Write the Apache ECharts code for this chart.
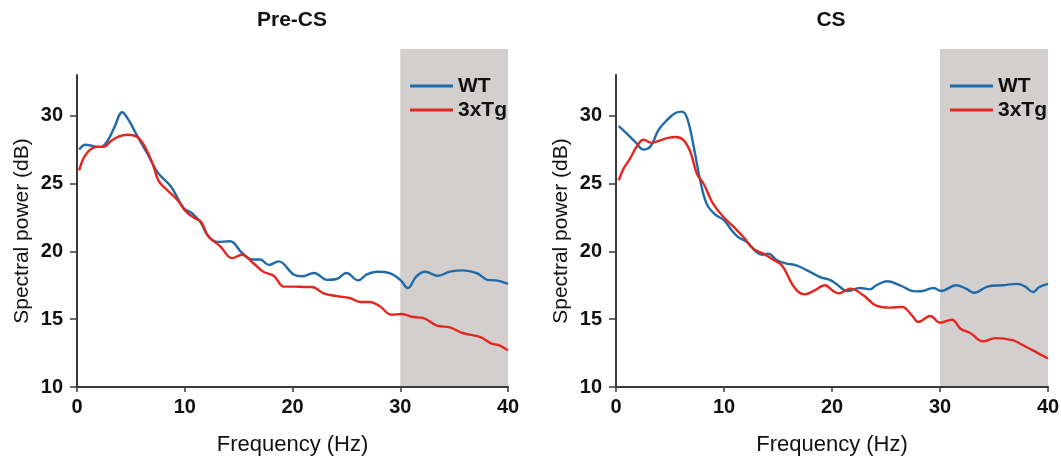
<!DOCTYPE html>
<html>
<head>
<meta charset="utf-8">
<script src="https://cdn.jsdelivr.net/npm/echarts@6/dist/echarts.min.js"></script>
<style>
  html, body { margin: 0; padding: 0; background: #fff; }
  #chart { width: 1061px; height: 457px; }
</style>
</head>
<body>
<div id="chart"></div>
<script>
// values
var panelTitles = ["Pre-CS", "CS"];
var seriesNames = ["WT", "3xTg"];
var xTicks = [0, 10, 20, 30, 40];
var yTicks = [10, 15, 20, 25, 30];
var band = [30, 40];

var preWtHz = [0.2, 0.8, 1.6, 2.2, 2.8, 3.45, 4.2, 4.7, 5.6, 6.5, 7.5, 8.7, 9.9, 10.7, 11.5, 12.1, 13.0, 14.2, 15.3, 16.25, 17.0, 17.8, 18.7, 20.1, 20.9, 22.0, 23.2, 24.1, 25.0, 26.1, 26.9, 27.8, 29.0, 30.0, 30.7, 31.5, 32.3, 33.5, 34.6, 35.8, 37.1, 38.1, 38.9, 40];
var preWt = [27.5, 27.86, 27.74, 27.7, 28.1, 29.1, 30.25, 29.8, 28.5, 27.25, 25.8, 24.8, 23.2, 22.8, 22.1, 21.2, 20.7, 20.74, 19.9, 19.4, 19.4, 19.0, 19.26, 18.3, 18.16, 18.4, 17.9, 17.96, 18.4, 17.86, 18.3, 18.5, 18.4, 17.9, 17.3, 18.16, 18.5, 18.2, 18.5, 18.6, 18.4, 17.9, 17.86, 17.6];

var preTgHz = [0.2, 0.7, 1.3, 1.9, 2.5, 3.1, 3.9, 4.7, 5.6, 6.2, 7.0, 7.6, 8.4, 9.3, 10.1, 10.9, 11.5, 12.2, 13.3, 14.4, 15.3, 16.4, 17.3, 18.25, 19.2, 20.1, 21.3, 21.8, 22.9, 24.1, 25.3, 26.3, 27.2, 28.1, 29.2, 30.1, 31.2, 32.1, 33.4, 34.6, 35.8, 37.4, 38.5, 39.2, 40];
var preTg = [25.97, 27.0, 27.54, 27.7, 27.7, 28.1, 28.48, 28.6, 28.43, 27.86, 26.5, 25.16, 24.5, 23.8, 22.95, 22.46, 22.2, 21.1, 20.37, 19.5, 19.75, 19.1, 18.5, 18.2, 17.4, 17.4, 17.37, 17.37, 16.9, 16.7, 16.56, 16.27, 16.27, 15.95, 15.33, 15.38, 15.16, 15.09, 14.52, 14.4, 13.98, 13.69, 13.2, 13.07, 12.7];

var csWtHz = [0.25, 1.0, 1.8, 2.55, 3.2, 3.9, 4.7, 5.5, 6.1, 6.6, 7.2, 7.8, 8.4, 9.2, 10.0, 10.6, 11.3, 12.1, 13.0, 13.5, 14.1, 14.9, 15.8, 16.7, 17.7, 18.9, 19.8, 20.4, 21.4, 22.6, 23.5, 24.1, 25.1, 26.3, 27.7, 28.4, 29.4, 30.1, 31.5, 32.4, 33.2, 34.4, 35.8, 37.1, 37.9, 38.6, 39.2, 40];
var csWt = [29.24, 28.67, 28.06, 27.5, 27.74, 28.9, 29.66, 30.2, 30.3, 29.78, 27.7, 25.23, 23.5, 22.7, 22.3, 21.67, 21.06, 20.7, 19.95, 19.75, 19.83, 19.34, 19.1, 18.97, 18.6, 18.1, 17.9, 17.6, 17.08, 17.3, 17.2, 17.5, 17.8, 17.5, 17.05, 17.08, 17.3, 17.08, 17.5, 17.25, 16.95, 17.4, 17.5, 17.6, 17.4, 17.0, 17.37, 17.6];

var csTgHz = [0.25, 0.7, 1.3, 1.9, 2.55, 3.3, 4.1, 4.9, 5.5, 6.25, 6.9, 7.5, 8.1, 9.0, 10.0, 10.9, 11.8, 12.7, 13.65, 14.4, 15.35, 16.3, 16.9, 17.5, 18.3, 19.35, 20.1, 20.6, 21.7, 22.9, 24.1, 25.4, 26.5, 27.4, 28.0, 29.1, 30.0, 31.1, 31.9, 32.8, 34.0, 35.1, 36.8, 37.5, 38.6, 40];
var csTg = [25.23, 26.1, 26.83, 27.7, 28.23, 28.0, 28.18, 28.38, 28.43, 28.2, 27.3, 25.7, 25.0, 23.5, 22.5, 21.8, 21.06, 20.2, 19.83, 19.46, 18.97, 17.6, 17.0, 16.83, 17.08, 17.5, 17.08, 16.9, 17.25, 16.76, 16.0, 15.85, 15.9, 15.28, 14.8, 15.23, 14.74, 14.96, 14.3, 13.98, 13.37, 13.6, 13.44, 13.15, 12.7, 12.1];

function pairs(xs, ys) {
    return xs.map(function (x, i) { return [x, ys[i]]; });
}

var font = "Liberation Sans, Arial, sans-serif";
var blue = "#1f6aa8";
var red = "#e3271f";
var axisColor = "#3a3a3a";

var panels = [
    { left: 77, right: 553, wt: pairs(preWtHz, preWt), tg: pairs(preTgHz, preTg), titleX: 292, legendX: 410 },
    { left: 616, right: 13, wt: pairs(csWtHz, csWt), tg: pairs(csTgHz, csTg), titleX: 831, legendX: 950 }
];

var grid = [], xAxis = [], yAxis = [], series = [], title = [], legend = [];

panels.forEach(function (p, k) {
    // main plot grid
    grid.push({ left: p.left, right: p.right, top: 75, bottom: 70, outerBoundsMode: "none", containLabel: false });
    // grid for the grey band, reaching a bit higher than the axis
    grid.push({ left: p.left, right: p.right, top: 49, bottom: 70, outerBoundsMode: "none", containLabel: false });

    var gMain = k * 2, gBand = k * 2 + 1;

    xAxis.push({
        type: "value", gridIndex: gMain, min: 0, max: 40, interval: 10,
        name: "Frequency (Hz)", nameLocation: "middle", nameGap: 47,
        nameTextStyle: { fontFamily: font, fontSize: 22, color: "#111" },
        axisLine: { show: true, lineStyle: { color: axisColor, width: 2 } },
        axisTick: { show: true, length: 5, customValues: xTicks, lineStyle: { color: axisColor, width: 1.5 } },
        axisLabel: { fontFamily: font, fontSize: 20, fontWeight: "bold", color: "#111", margin: 10, customValues: xTicks },
        splitLine: { show: false },
        z: 5
    });
    xAxis.push({ type: "value", gridIndex: gBand, min: 0, max: 40, show: false });

    yAxis.push({
        type: "value", gridIndex: gMain, min: 10, max: 33,
        name: "Spectral power (dB)", nameLocation: "middle", nameGap: 44,
        nameTextStyle: { fontFamily: font, fontSize: 21, color: "#111" },
        axisLine: { show: true, lineStyle: { color: axisColor, width: 2 } },
        axisTick: { show: true, length: 7, customValues: yTicks, lineStyle: { color: axisColor, width: 1.5 } },
        axisLabel: { fontFamily: font, fontSize: 20, fontWeight: "bold", color: "#111", margin: 14, customValues: yTicks },
        splitLine: { show: false },
        z: 5
    });
    yAxis.push({ type: "value", gridIndex: gBand, min: 0, max: 1, show: false });

    series.push({
        type: "line", xAxisIndex: gBand, yAxisIndex: gBand,
        data: [], silent: true, z: 0,
        markArea: {
            silent: true,
            itemStyle: { color: "#d3cfcf" },
            data: [[{ xAxis: band[0] }, { xAxis: band[1] }]]
        }
    });
    series.push({
        name: seriesNames[0], type: "line", xAxisIndex: gMain, yAxisIndex: gMain,
        data: p.wt, smooth: 0.4, symbol: "none", z: 4,
        lineStyle: { color: blue, width: 2.4 }, itemStyle: { color: blue }
    });
    series.push({
        name: seriesNames[1], type: "line", xAxisIndex: gMain, yAxisIndex: gMain,
        data: p.tg, smooth: 0.4, symbol: "none", z: 4,
        lineStyle: { color: red, width: 2.4 }, itemStyle: { color: red }
    });

    title.push({
        text: panelTitles[k], left: p.titleX, top: 10, textAlign: "center", padding: 0,
        textStyle: { fontFamily: font, fontSize: 21, fontWeight: "bold", color: "#111" }
    });

    legend.push({
        data: seriesNames, orient: "vertical", left: p.legendX, top: 75, padding: 0,
        icon: "rect", itemWidth: 43, itemHeight: 3, itemGap: 2,
        textStyle: { fontFamily: font, fontSize: 21, fontWeight: "bold", color: "#111", lineHeight: 22 },
        selectedMode: false
    });
});

var myChart = echarts.init(document.getElementById("chart"));
myChart.setOption({
    animation: false,
    backgroundColor: "#fff",
    title: title,
    legend: legend,
    grid: grid,
    xAxis: xAxis,
    yAxis: yAxis,
    series: series
});
</script>
</body>
</html>
